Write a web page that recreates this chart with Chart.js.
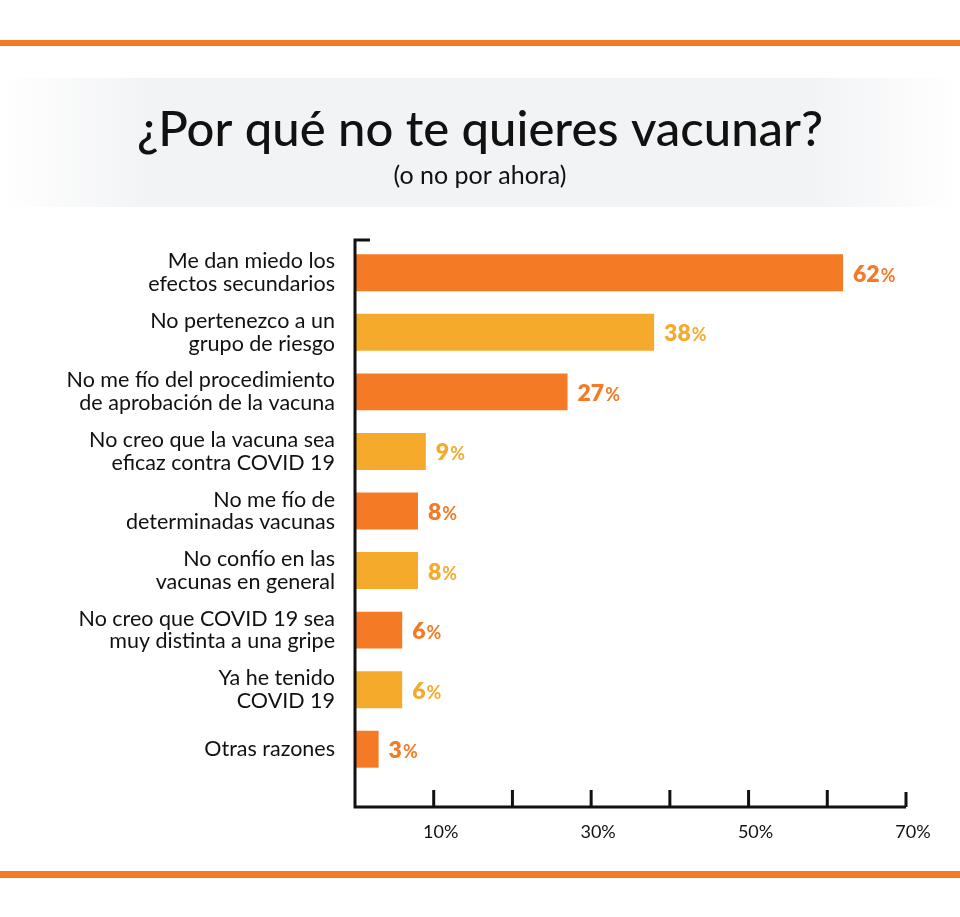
<!DOCTYPE html>
<html>
<head>
<meta charset="utf-8">
<script src="https://cdn.jsdelivr.net/npm/chart.js@4.4.1/dist/chart.umd.min.js"></script>
<style>
  html, body { margin: 0; padding: 0; background: #ffffff; }
  #wrap { position: relative; width: 960px; height: 917px; }
</style>
</head>
<body>
<div id="wrap"><canvas id="c" width="960" height="917"></canvas></div>
<script>
const titleText = '¿Por qué no te quieres vacunar?';
const subtitleText = '(o no por ahora)';
const categories = [
  ['Me dan miedo los', 'efectos secundarios'],
  ['No pertenezco a un', 'grupo de riesgo'],
  ['No me fío del procedimiento', 'de aprobación de la vacuna'],
  ['No creo que la vacuna sea', 'eficaz contra COVID 19'],
  ['No me fío de', 'determinadas vacunas'],
  ['No confío en las', 'vacunas en general'],
  ['No creo que COVID 19 sea', 'muy distinta a una gripe'],
  ['Ya he tenido', 'COVID 19'],
  ['Otras razones']
];
const values = [62, 38, 27, 9, 8, 8, 6, 6, 3];
const xTickLabels = { 10: '10%', 30: '30%', 50: '50%', 70: '70%' };
const xMin = 0, xMax = 70, xStep = 10;

const ORANGE = '#F47A26';
const YELLOW = '#F5AA2C';
const barColors = values.map((v, i) => i % 2 === 0 ? ORANGE : YELLOW);

const FONT = 'Lato, "Open Sans", sans-serif';

const decorPlugin = {
  id: 'decor',
  beforeDraw(chart) {
    const ctx = chart.ctx;
    const W = chart.width;
    ctx.save();
    ctx.fillStyle = '#ffffff';
    ctx.fillRect(0, 0, W, chart.height);
    // grey title band
    const g = ctx.createLinearGradient(0, 0, W, 0);
    g.addColorStop(0, 'rgba(242,243,245,0)');
    g.addColorStop(0.16, 'rgba(242,243,245,1)');
    g.addColorStop(0.84, 'rgba(242,243,245,1)');
    g.addColorStop(1, 'rgba(242,243,245,0)');
    ctx.fillStyle = g;
    ctx.fillRect(0, 78, W, 129);
    // orange rules
    ctx.fillStyle = ORANGE;
    ctx.fillRect(0, 40, W, 6);
    ctx.fillRect(0, 871, W, 7);
    // title + subtitle
    ctx.fillStyle = '#111111';
    ctx.textAlign = 'center';
    ctx.textBaseline = 'alphabetic';
    ctx.font = '500 49px ' + FONT;
    ctx.fillText(titleText, W / 2, 146);
    ctx.font = '400 25px ' + FONT;
    ctx.fillText(subtitleText, W / 2, 184);
    ctx.restore();
  },
  afterDatasetsDraw(chart) {
    const ctx = chart.ctx;
    const xs = chart.scales.x;
    const area = chart.chartArea;
    const x0 = xs.getPixelForValue(xMin);
    const axisY = area.bottom + 28;
    const topY = area.top - 3;
    ctx.save();
    ctx.strokeStyle = '#111111';
    ctx.lineWidth = 3;
    ctx.lineCap = 'butt';
    ctx.beginPath();
    ctx.moveTo(x0 + 15, topY);
    ctx.lineTo(x0, topY);
    ctx.lineTo(x0, axisY);
    ctx.lineTo(xs.getPixelForValue(xMax), axisY);
    for (let v = xMin + xStep; v <= xMax; v += xStep) {
      const px = xs.getPixelForValue(v);
      ctx.moveTo(px, axisY);
      ctx.lineTo(px, axisY - (v === xMax ? 15 : 17));
    }
    ctx.stroke();

    // value labels
    const meta = chart.getDatasetMeta(0);
    ctx.textBaseline = 'alphabetic';
    ctx.textAlign = 'left';
    meta.data.forEach((bar, i) => {
      const num = String(values[i]);
      ctx.fillStyle = barColors[i];
      ctx.font = '800 23px ' + FONT;
      const x = bar.x + 10;
      const y = bar.y + 9;
      ctx.fillText(num, x, y);
      const w = ctx.measureText(num).width;
      ctx.font = '700 18px ' + FONT;
      ctx.fillText('%', x + w + 1, y);
    });
    ctx.restore();
  }
};

new Chart(document.getElementById('c'), {
  type: 'bar',
  data: {
    labels: categories,
    datasets: [{
      data: values,
      backgroundColor: barColors,
      borderWidth: 0,
      barPercentage: 0.62,
      categoryPercentage: 1.0
    }]
  },
  options: {
    indexAxis: 'y',
    responsive: false,
    animation: false,
    devicePixelRatio: 1,
    layout: { padding: { left: 0, right: 54, top: 243, bottom: 0 } },
    plugins: {
      legend: { display: false },
      tooltip: { enabled: false },
      title: { display: false },
      subtitle: { display: false }
    },
    scales: {
      x: {
        type: 'linear',
        min: xMin,
        max: xMax,
        ticks: {
          stepSize: xStep,
          padding: 42,
          labelOffset: 7,
          color: '#111111',
          font: { family: FONT, size: 18 },
          maxRotation: 0,
          autoSkip: false,
          callback: (v) => xTickLabels[v] || ''
        },
        grid: { display: false, drawTicks: false },
        border: { display: false },
        afterFit(scale) {
          scale.height = 138;
          scale.paddingLeft = 0;
          scale.paddingRight = 0;
        }
      },
      y: {
        type: 'category',
        ticks: {
          color: '#111111',
          font: { family: FONT, size: 21.5, lineHeight: 1.06 },
          padding: 20,
          autoSkip: false
        },
        grid: { display: false, drawTicks: false },
        border: { display: false },
        afterFit(scale) {
          scale.width = 355;
          scale.paddingTop = 0;
          scale.paddingBottom = 0;
        }
      }
    }
  },
  plugins: [decorPlugin]
});
</script>
</body>
</html>
